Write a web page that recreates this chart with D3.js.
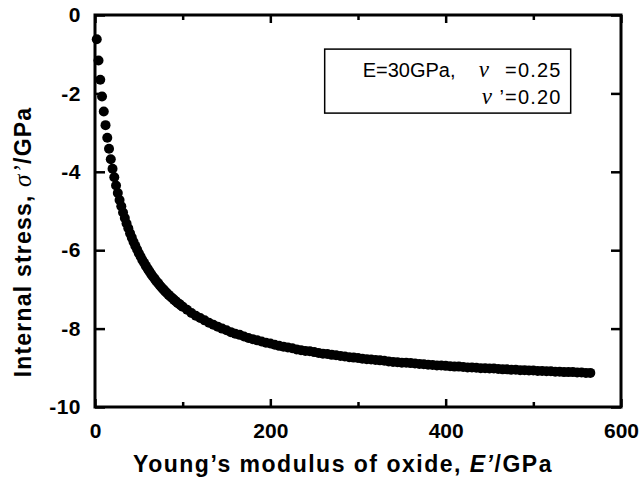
<!DOCTYPE html>
<html lang="en">
<head>
    <meta charset="UTF-8">
    <title>Internal stress vs Young's modulus of oxide</title>
    <script src="https://cdnjs.cloudflare.com/ajax/libs/d3/7.8.5/d3.min.js"></script>
    <style>
        body { margin: 0; padding: 0; background: #fff; }
        svg { display: block; font-family: "Liberation Sans", Arial, sans-serif; }
        .tick text { font-size: 21px; font-weight: bold; fill: #000; }
        .tick line { stroke: #000; stroke-width: 2.5px; }
        .domain { display: none; }
    </style>
</head>
<body>
<div id="chart"></div>
<script>
// Young's modulus of oxide E' (GPa)
const modulus = [
    2, 4, 6, 8, 10, 12, 14, 16, 18, 20, 22, 24, 26, 28, 30, 32, 34, 36, 38, 40,
    42, 44, 46, 48, 50, 52, 54, 56, 58, 60, 62, 64, 66, 68, 70, 72, 74, 76, 78, 80,
    82, 84, 86, 88, 90, 92, 94, 96, 98, 100,
    105, 110, 115, 120, 125, 130, 135, 140,
    145, 150, 155, 160, 165, 170, 175, 180, 185, 190, 195, 200, 205, 210, 215, 220, 225, 230, 235, 240,
    245, 250, 255, 260, 265, 270, 275, 280, 285, 290, 295, 300, 305, 310, 315, 320, 325, 330, 335, 340,
    345, 350, 355, 360, 365, 370, 375, 380, 385, 390, 395, 400, 405, 410, 415, 420, 425, 430, 435, 440,
    445, 450, 455, 460, 465, 470, 475, 480, 485, 490, 495, 500, 505, 510, 515, 520, 525, 530, 535, 540,
    545, 550, 555, 560, 565
];
// internal stress sigma' (GPa)
const stress = [
    -0.62, -1.16, -1.65, -2.08, -2.46, -2.81, -3.13, -3.41, -3.68, -3.92, -4.14, -4.35, -4.54, -4.72, -4.88, -5.04, -5.18, -5.32, -5.44, -5.57,
    -5.68, -5.79, -5.89, -5.98, -6.08, -6.16, -6.25, -6.32, -6.40, -6.47, -6.54, -6.61, -6.67, -6.73, -6.79, -6.84, -6.90, -6.95, -7.00, -7.05,
    -7.09, -7.14, -7.18, -7.22, -7.26, -7.30, -7.34, -7.37, -7.41, -7.44,
    -7.52, -7.60, -7.67, -7.73, -7.79, -7.85, -7.90, -7.95,
    -8.00, -8.04, -8.09, -8.13, -8.16, -8.20, -8.24, -8.27, -8.30, -8.33, -8.36, -8.38, -8.41, -8.44, -8.46, -8.48, -8.50, -8.53, -8.55, -8.57,
    -8.58, -8.60, -8.62, -8.64, -8.65, -8.67, -8.68, -8.70, -8.71, -8.73, -8.74, -8.75, -8.77, -8.78, -8.79, -8.80, -8.81, -8.82, -8.84, -8.85,
    -8.86, -8.87, -8.87, -8.88, -8.89, -8.90, -8.91, -8.92, -8.93, -8.94, -8.94, -8.95, -8.96, -8.97, -8.97, -8.98, -8.99, -8.99, -9.00, -9.01,
    -9.01, -9.02, -9.02, -9.03, -9.04, -9.04, -9.05, -9.05, -9.06, -9.06, -9.07, -9.07, -9.08, -9.08, -9.09, -9.09, -9.10, -9.10, -9.11, -9.11,
    -9.11, -9.12, -9.12, -9.13, -9.13
];
const xTicks = [0, 200, 400, 600];
const xMinorTicks = [100, 300, 500];
const yTicks = [0, -2, -4, -6, -8, -10];

const width = 639, height = 481;
const margin = { top: 15, right: 18, bottom: 74, left: 95 };
const plotW = width - margin.left - margin.right;
const plotH = height - margin.top - margin.bottom;

const svg = d3.select("#chart").append("svg")
    .attr("width", width)
    .attr("height", height);

const g = svg.append("g")
    .attr("transform", `translate(${margin.left},${margin.top})`);

const x = d3.scaleLinear().domain([0, 600]).range([0, plotW]);
const y = d3.scaleLinear().domain([-10, 0]).range([plotH, 0]);
const fmt = d => String(d);   // plain hyphen for negatives, like the original

// bottom axis (ticks point inward)
g.append("g")
    .attr("transform", `translate(0,${plotH})`)
    .call(d3.axisBottom(x).tickValues(xTicks).tickSizeInner(-8).tickPadding(16).tickFormat(fmt));
g.append("g")
    .attr("transform", `translate(0,${plotH})`)
    .call(d3.axisBottom(x).tickValues(xMinorTicks).tickSizeInner(-5).tickFormat(""));
// top axis
g.append("g")
    .call(d3.axisTop(x).tickValues(xTicks).tickSizeInner(-8).tickFormat(""));
g.append("g")
    .call(d3.axisTop(x).tickValues(xMinorTicks).tickSizeInner(-5).tickFormat(""));
// left axis
g.append("g")
    .call(d3.axisLeft(y).tickValues(yTicks).tickSizeInner(-10).tickPadding(14).tickFormat(fmt))
    .selectAll(".tick text").style("letter-spacing", "0.5px");
// right axis
g.append("g")
    .attr("transform", `translate(${plotW},0)`)
    .call(d3.axisRight(y).tickValues(yTicks).tickSizeInner(-10).tickFormat(""));

// frame
g.append("rect")
    .attr("width", plotW)
    .attr("height", plotH)
    .attr("fill", "none")
    .attr("stroke", "#000")
    .attr("stroke-width", 3);

// data points
const points = d3.zip(modulus, stress);
g.append("g")
    .selectAll("circle")
    .data(points)
    .join("circle")
    .attr("cx", d => x(d[0]))
    .attr("cy", d => y(d[1]))
    .attr("r", 5)
    .attr("fill", "#000");

// legend box
const legend = g.append("g").attr("transform", `translate(${x(262)},${y(-0.87)})`);
legend.append("rect")
    .attr("width", 246)
    .attr("height", 64)
    .attr("fill", "#fff")
    .attr("stroke", "#000")
    .attr("stroke-width", 1.5);

const nu = (px, py) => legend.append("text")
    .attr("x", px).attr("y", py)
    .style("font-style", "italic")
    .style("font-family", "'Liberation Serif', serif")
    .style("font-size", "23px")
    .text("\u03BD");
const label = (px, py, anchor, txt, ls) => legend.append("text")
    .attr("x", px).attr("y", py)
    .attr("text-anchor", anchor)
    .style("font-size", "20px")
    .style("letter-spacing", ls)
    .text(txt);

label(38, 28, "start", "E=30GPa,", "0px");
nu(154, 28);
label(237, 28, "end", "=0.25", "1.2px");
nu(157, 55);
label(237, 55, "end", "\u2019=0.20", "1.2px");

// axis titles
const xTitle = svg.append("text")
    .attr("x", 343)
    .attr("y", 472)
    .attr("text-anchor", "middle")
    .style("font-size", "23px")
    .style("letter-spacing", "1.5px")
    .style("font-weight", "bold");
xTitle.append("tspan").text("Young\u2019s modulus of oxide, ");
xTitle.append("tspan").style("font-style", "italic").text("E\u2019");
xTitle.append("tspan").text("/GPa");

const yTitle = svg.append("text")
    .attr("transform", "translate(31,242) rotate(-90)")
    .attr("text-anchor", "middle")
    .style("font-size", "23px")
    .style("letter-spacing", "1.2px")
    .style("font-weight", "bold");
yTitle.append("tspan").text("Internal stress, ");
yTitle.append("tspan").style("font-style", "italic").style("font-weight", "normal")
    .style("font-family", "'Liberation Serif', serif").style("font-size", "25px").text("\u03C3\u2019");
yTitle.append("tspan").text("/GPa");
</script>
</body>
</html>
